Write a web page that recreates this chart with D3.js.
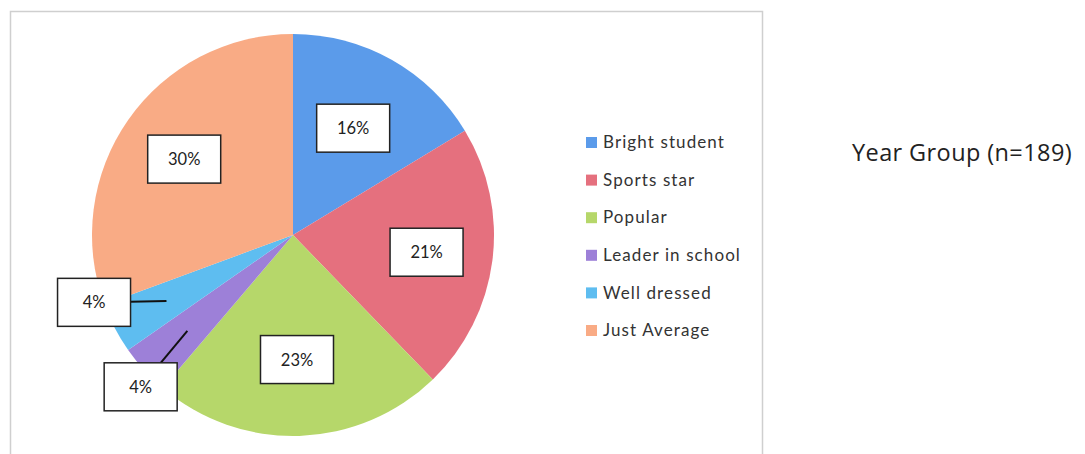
<!DOCTYPE html>
<html lang="en">
<head>
<meta charset="UTF-8">
<title>Year Group (n=189)</title>
<script src="https://d3js.org/d3.v7.min.js"></script>
<style>
    body { margin: 0; background: #fff; }
    svg { display: block; }
</style>
</head>
<body>
<svg id="chart" width="1085" height="454"></svg>
<script>
    // data
    const categories = ["Bright student", "Sports star", "Popular", "Leader in school", "Well dressed", "Just Average"];
    const values = [16, 21, 23, 4, 4, 30];
    const labels = ["16%", "21%", "23%", "4%", "4%", "30%"];
    const colors = ["#5b9bea", "#e5707e", "#b6d76a", "#9d80d8", "#5ebdf0", "#f9ab85"];
    const title = "Year Group (n=189)";

    // label placement: radius as share of pie radius, angle override (deg) for the moved small labels
    const labelRadius = [0.61, 0.67, 0.62, 1.07, 1.045, 0.66];
    const labelAngle = [null, null, null, 225.1, 251.3, null];
    const hasLeader = [false, false, false, true, true, false];

    const svg = d3.select("#chart");
    const cx = 293, cy = 235, r = 201;
    const boxW = 73, boxH = 48;

    // chart frame
    svg.append("rect")
        .attr("x", 10.5).attr("y", 11.5)
        .attr("width", 752).attr("height", 460)
        .attr("fill", "none")
        .attr("stroke", "#cfcfcf")
        .attr("stroke-width", 1.5);

    const pie = d3.pie().sort(null).value(d => d);
    const arcs = pie(values);
    const arc = d3.arc().innerRadius(0).outerRadius(r);

    const g = svg.append("g").attr("transform", `translate(${cx},${cy})`);

    g.selectAll("path.slice")
        .data(arcs)
        .join("path")
        .attr("class", "slice")
        .attr("d", arc)
        .attr("fill", (d, i) => colors[i]);

    const polar = (angleRad, rad) => [Math.sin(angleRad) * rad, -Math.cos(angleRad) * rad];

    const labelData = arcs.map((d, i) => {
        const mid = (d.startAngle + d.endAngle) / 2;
        const a = labelAngle[i] === null ? mid : labelAngle[i] * Math.PI / 180;
        const [x, y] = polar(a, labelRadius[i] * r);
        return { i, mid, x, y };
    });

    // leader lines for the two small slices
    labelData.filter(d => hasLeader[d.i]).forEach(d => {
        const [sx, sy] = polar(d.mid, 0.71 * r);
        const dx = sx - d.x, dy = sy - d.y;
        const t = Math.min(
            dx !== 0 ? (boxW / 2) / Math.abs(dx) : Infinity,
            dy !== 0 ? (boxH / 2) / Math.abs(dy) : Infinity
        );
        g.append("line")
            .attr("x1", d.x + dx * t).attr("y1", d.y + dy * t)
            .attr("x2", sx).attr("y2", sy)
            .attr("stroke", "#111")
            .attr("stroke-width", 2);
    });

    const lab = g.selectAll("g.label")
        .data(labelData)
        .join("g")
        .attr("class", "label")
        .attr("transform", d => `translate(${d.x},${d.y})`);

    lab.append("rect")
        .attr("x", -boxW / 2).attr("y", -boxH / 2)
        .attr("width", boxW).attr("height", boxH)
        .attr("fill", "#fff")
        .attr("stroke", "#222")
        .attr("stroke-width", 1.5);

    lab.append("text")
        .attr("text-anchor", "middle")
        .attr("dy", "0.36em")
        .attr("font-family", "Lato, 'Open Sans', sans-serif")
        .attr("font-size", 16.5)
        .attr("fill", "#222")
        .text(d => labels[d.i]);

    // legend
    const legend = svg.append("g").attr("transform", "translate(586,142)");
    const rowY = d3.scalePoint().domain(categories).range([0, 188]);

    const item = legend.selectAll("g")
        .data(categories)
        .join("g")
        .attr("transform", d => `translate(0,${rowY(d)})`);

    item.append("rect")
        .attr("x", 0).attr("y", -5)
        .attr("width", 11).attr("height", 11)
        .attr("fill", (d, i) => colors[i]);

    item.append("text")
        .attr("x", 17)
        .attr("dy", "0.36em")
        .attr("font-family", "Lato, 'Open Sans', sans-serif")
        .attr("font-size", 17)
        .attr("letter-spacing", 1.1)
        .attr("fill", "#333")
        .text(d => d);

    // title
    svg.append("text")
        .attr("x", 852).attr("y", 161)
        .attr("font-family", "'Open Sans', sans-serif")
        .attr("font-size", 23.5)
        .attr("letter-spacing", 0.4)
        .attr("fill", "#222")
        .text(title);
</script>
</body>
</html>
